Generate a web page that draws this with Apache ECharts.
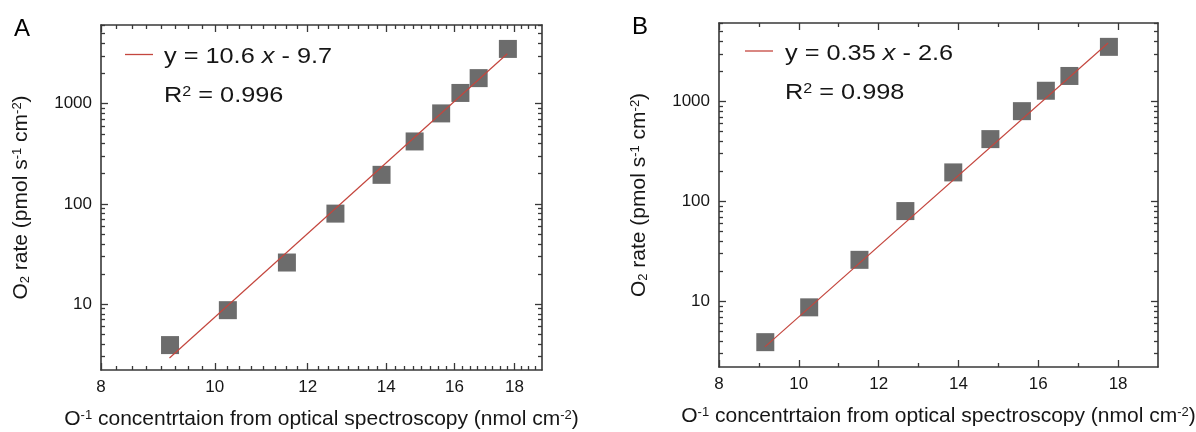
<!DOCTYPE html>
<html><head><meta charset="utf-8">
<script src="https://cdn.jsdelivr.net/npm/echarts@6/dist/echarts.min.js"></script>
<style>html,body{margin:0;padding:0;background:#fff}#c{width:1196px;height:432px}</style>
</head><body><div id="c"></div>
<script>
// ---- data ----
const concentration = [9.16, 10.26, 11.52, 12.67, 13.87, 14.80, 15.59, 16.19, 16.78, 17.77];
const o2Rate = [3.9, 8.7, 26, 80, 195, 420, 800, 1280, 1800, 3520];
const fitAX = [9.15, 17.75];
const fitAY = [2.9, 3150];
const fitBX = [9.15, 17.75];
const fitBY = [3.5, 3850];
const xTickLabels = [8, 10, 12, 14, 16, 18];
const yTickLabels = [10, 100, 1000];
const eqA = 'y = 10.6 {i|x} - 9.7';
const r2A = 'R{sup|2} = 0.996';
const eqB = 'y = 0.35 {i|x} - 2.6';
const r2B = 'R{sup|2} = 0.998';
const xTitle = 'O{sup|-1} concentrtaion from optical spectroscopy (nmol cm{sup|-2})';
const yTitle = 'O{sub|2} rate (pmol s{sup|-1} cm{sup|-2})';

// ---- ranges and minor ticks ----
const X_MIN = 8, X_MAX = 19, Y_MIN = 2.2, Y_MAX = 6100;
const xMinorA = [];
for (let k = 1; k < 44; k++) { const v = 8 + k * 0.25; if (xTickLabels.indexOf(v) < 0) xMinorA.push(v); }
const xMinorB = [9, 11, 13, 15, 17];
const yMinor = [];
[1, 10, 100, 1000].forEach(d => { for (let m = 2; m <= 9; m++) { const v = d * m; if (v > Y_MIN && v < Y_MAX) yMinor.push(v); } });

const FONT = '"Liberation Sans", Arial, sans-serif';
const FRAME = '#383838';
const TXT = '#161616';
const RED = '#c4463e';

function richSet(fs) {
  return {
    sup: { fontSize: Math.round(fs * 0.62), verticalAlign: 'top', fontFamily: FONT, color: TXT, fill: TXT },
    sub: { fontSize: Math.round(fs * 0.62), verticalAlign: 'bottom', fontFamily: FONT, color: TXT, fill: TXT },
    i: { fontSize: fs, fontStyle: 'italic', fontFamily: FONT, color: TXT, fill: TXT }
  };
}

function axis(dim, type, grid, pos, major, ticks, len, line, labels, extra) {
  const a = {
    type: type, gridIndex: grid, position: pos,
    min: dim === 'x' ? X_MIN : Y_MIN, max: dim === 'x' ? X_MAX : Y_MAX,
    axisLine: { show: line, onZero: false, lineStyle: { color: FRAME, width: 1.6 } },
    axisTick: { show: true, inside: true, length: len, customValues: ticks, lineStyle: { color: FRAME, width: 1.3 } },
    axisLabel: { show: labels, customValues: major, margin: 9, fontSize: 17, color: TXT, fontFamily: FONT,
      formatter: v => String(Math.round(v)) },
    splitLine: { show: false }
  };
  if (type === 'log') a.logBase = 10;
  return Object.assign(a, extra || {});
}

const nameOpt = (gap) => ({
  nameLocation: 'middle', nameGap: gap,
  nameTextStyle: { fontSize: 21, color: TXT, fontFamily: FONT, rich: richSet(21) }
});

function xAxesFor(type, g, minors) {
  return [
    axis('x', type, g, 'bottom', xTickLabels, xTickLabels, 7, true, true, Object.assign({ name: xTitle }, nameOpt(39))),
    axis('x', type, g, 'bottom', xTickLabels, minors, 4, false, false),
    axis('x', type, g, 'top', xTickLabels, xTickLabels, 7, true, false),
    axis('x', type, g, 'top', xTickLabels, minors, 4, false, false)
  ];
}
function yAxesFor(g) {
  return [
    axis('y', 'log', g, 'left', yTickLabels, yTickLabels, 7, true, true, Object.assign({ name: yTitle }, nameOpt(69))),
    axis('y', 'log', g, 'left', yTickLabels, yMinor, 4, false, false),
    axis('y', 'log', g, 'right', yTickLabels, yTickLabels, 7, true, false),
    axis('y', 'log', g, 'right', yTickLabels, yMinor, 4, false, false)
  ];
}

const pts = concentration.map((x, i) => [x, o2Rate[i]]);
const fitA = fitAX.map((x, i) => [x, fitAY[i]]);
const fitB = fitBX.map((x, i) => [x, fitBY[i]]);

function legendText(x, y, txt) {
  return { type: 'text', x: x, y: y, scaleX: 1.15, silent: true,
    style: { text: txt, fontSize: 22, fontFamily: FONT, fill: TXT, verticalAlign: 'middle', align: 'left', rich: richSet(22) } };
}

const chart = echarts.init(document.getElementById('c'), null, { renderer: 'canvas' });
chart.setOption({
  animation: false,
  backgroundColor: '#ffffff',
  grid: [
    { left: 101, top: 25, width: 441, height: 345, outerBoundsMode: 'none' },
    { left: 719, top: 23, width: 439, height: 344, outerBoundsMode: 'none' }
  ],
  xAxis: xAxesFor('log', 0, xMinorA).concat(xAxesFor('value', 1, xMinorB)),
  yAxis: yAxesFor(0).concat(yAxesFor(1)),
  series: [
    { type: 'scatter', xAxisIndex: 0, yAxisIndex: 0, data: pts, symbol: 'rect', symbolSize: 18,
      itemStyle: { color: '#474747' }, z: 2, silent: true },
    { type: 'line', xAxisIndex: 0, yAxisIndex: 0, data: fitA, symbol: 'none', showSymbol: false,
      lineStyle: { color: RED, width: 1.2 }, z: 3, silent: true },
    { type: 'scatter', xAxisIndex: 4, yAxisIndex: 4, data: pts, symbol: 'rect', symbolSize: 18,
      itemStyle: { color: '#474747' }, z: 2, silent: true },
    { type: 'line', xAxisIndex: 4, yAxisIndex: 4, data: fitB, symbol: 'none', showSymbol: false,
      lineStyle: { color: RED, width: 1.2 }, z: 3, silent: true }
  ],
  graphic: [
    { type: 'text', x: 14, y: 17, silent: true, style: { text: 'A', fontSize: 24, fontFamily: FONT, fill: '#000' } },
    { type: 'text', x: 632, y: 15, silent: true, style: { text: 'B', fontSize: 24, fontFamily: FONT, fill: '#000' } },
    { type: 'line', silent: true, shape: { x1: 125, y1: 54.5, x2: 153, y2: 54.5 }, style: { stroke: RED, lineWidth: 1.3 } },
    legendText(164, 57, eqA),
    legendText(164, 96, r2A),
    { type: 'line', silent: true, shape: { x1: 745, y1: 51, x2: 773, y2: 51 }, style: { stroke: RED, lineWidth: 1.3 } },
    legendText(785, 54, eqB),
    legendText(785, 93, r2B)
  ]
});
</script>
</body></html>
